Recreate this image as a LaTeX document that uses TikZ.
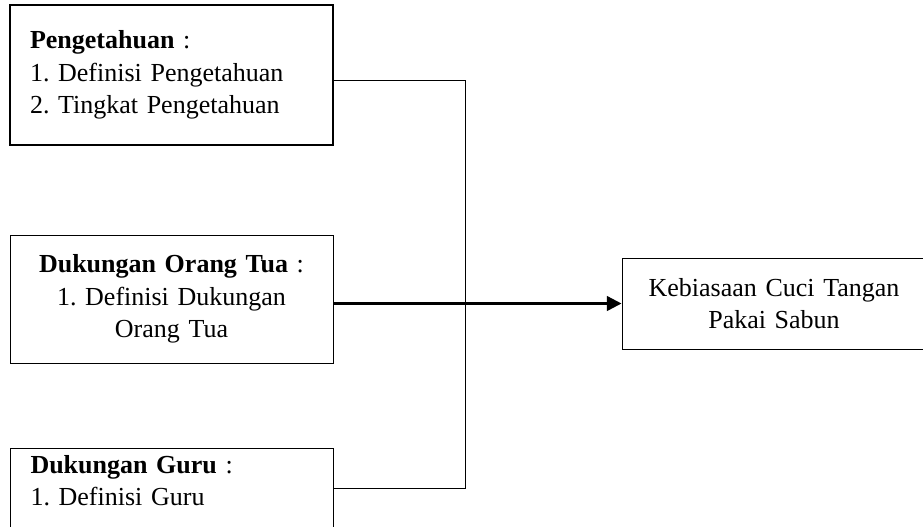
\documentclass[tikz,border=0pt]{standalone}
\usepackage{fontspec}
\setmainfont{Liberation Serif}
\usepackage{tikz}
\usetikzlibrary{arrows.meta}
\tikzset{box/.style={draw, rectangle, inner xsep=15pt, inner ysep=5pt, line width=0.75pt,
      font=\fontsize{19.5}{24.5}\selectfont\frenchspacing}}
\tikzset{leftbox/.style={box, align=left, text width=212.25pt, minimum width=242.25pt}}
\tikzset{midbox/.style={box, align=center, text width=212.25pt, minimum width=242.25pt}}
\tikzset{->-/.style={line width=1.8pt, -{Triangle[length=11pt,width=11pt]}}}

\begin{document}
\begin{tikzpicture}[x=0.75pt, y=-0.75pt]
		\useasboundingbox (0,0) rectangle (923,526);
		\clip (0,0) rectangle (923,526);
		\node[leftbox, line width=1.5pt, minimum height=105pt] (peng) at (171.5,75)
			{\textbf{Pengetahuan} :\\ 1. Definisi Pengetahuan\\ 2. Tingkat Pengetahuan};
		\node[midbox, minimum height=96pt] (ortu) at (171.5,299)
			{\textbf{Dukungan Orang Tua} :\\ 1. Definisi Dukungan\\ Orang Tua};
		\node[leftbox, anchor=north west] (guru) at (10,448)
			{\textbf{Dukungan Guru} :\\ 1. Definisi Guru\\ \mbox{}};
		\node[box, align=center, text width=198pt, minimum width=228pt, minimum height=68.25pt] (cuci) at (774,303.5)
			{Kebiasaan Cuci Tangan\\ Pakai Sabun};
		\coordinate (bustop) at (465,80);
		\coordinate (busbot) at (465,488);
		\draw[line width=0.75pt] (peng.east |- bustop) -- (bustop) -- (busbot) -- (guru.east |- busbot);
		\draw[->-] (ortu.east |- cuci.west) to (cuci.west);
		\end{tikzpicture}
\end{document}
